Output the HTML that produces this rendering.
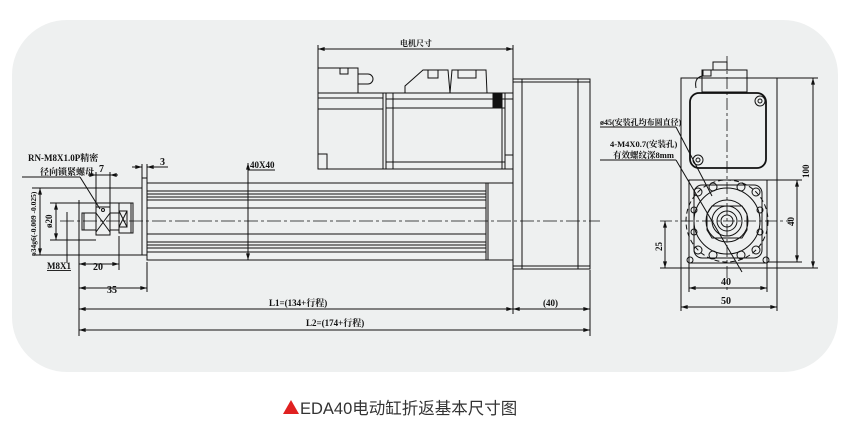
<!DOCTYPE html>
<html><head><meta charset="utf-8"><style>
html,body{margin:0;padding:0;background:#fff;width:850px;height:434px;overflow:hidden}
svg{display:block}
text{font-family:"Liberation Serif","Noto Serif CJK SC",serif;font-weight:bold;fill:#111}
</style></head><body>
<svg width="850" height="434" viewBox="0 0 850 434" xmlns="http://www.w3.org/2000/svg">
<defs>
<marker id="a" viewBox="0 0 10 6" refX="10" refY="3" markerWidth="7" markerHeight="4" orient="auto-start-reverse"><path d="M0,0L10,3L0,6z" fill="#111"/></marker>
</defs>
<rect x="12" y="20" width="826" height="352" rx="55" fill="#eef0f0"/>
<g stroke="#111" stroke-width="1" fill="none">
<line x1="60" y1="221" x2="600" y2="221" stroke-dasharray="14,3,3,3" stroke-width="0.8"/>
<rect x="147" y="183" width="339" height="77"/>
<line x1="147" y1="191" x2="486" y2="191"/><line x1="147" y1="194" x2="486" y2="194"/><line x1="147" y1="197" x2="486" y2="197"/><line x1="147" y1="200" x2="486" y2="200"/><line x1="147" y1="208" x2="486" y2="208"/>
<line x1="147" y1="234" x2="486" y2="234"/><line x1="147" y1="242" x2="486" y2="242"/><line x1="147" y1="245" x2="486" y2="245"/><line x1="147" y1="248" x2="486" y2="248"/><line x1="147" y1="252" x2="486" y2="252"/>
<rect x="486" y="183" width="27" height="77"/><line x1="488" y1="183" x2="488" y2="260"/>
<rect x="142" y="178" width="5" height="77"/>
<rect x="119" y="203" width="14" height="30"/><line x1="131" y1="203" x2="131" y2="233"/>
<path d="M119,211 L127,211 L127,227 L119,227z M119,211 L127,227 M127,211 L119,227"/>
<rect x="110" y="213" width="9" height="17"/>
<rect x="96" y="207" width="14" height="28"/><path d="M96,213 L110,232 M110,213 L96,232"/><circle cx="103" cy="210" r="1.5"/>
<rect x="82" y="213" width="14" height="17"/><line x1="84" y1="213" x2="84" y2="230"/>
<rect x="513" y="79" width="77" height="190"/><rect x="513" y="79" width="9" height="190"/><rect x="578" y="79" width="12" height="190"/>
<line x1="513" y1="82" x2="590" y2="82"/><line x1="513" y1="266" x2="590" y2="266"/>
<rect x="318" y="93" width="195" height="76"/>
<line x1="318" y1="98" x2="383" y2="98"/><line x1="318" y1="109" x2="383" y2="109"/>
<line x1="383" y1="93" x2="383" y2="169"/><line x1="386" y1="93" x2="386" y2="169"/><line x1="393" y1="93" x2="393" y2="169"/>
<line x1="386" y1="99" x2="513" y2="99"/><line x1="386" y1="108" x2="505" y2="108"/><line x1="386" y1="162" x2="505" y2="162"/>
<line x1="502" y1="93" x2="502" y2="169"/><line x1="505" y1="93" x2="505" y2="169"/>
<rect x="493" y="93" width="9" height="15" fill="#111"/>
<rect x="318" y="154" width="9" height="15"/><rect x="505" y="155" width="8" height="14"/>
<rect x="318" y="68" width="40" height="25"/><rect x="340" y="68" width="8" height="6"/><path d="M358,74 h10 a5,5 0 0 1 0,10 h-10"/>
<path d="M405,93 L405,86 L423,70 L448,70 L450,93 M450,93 L452,70 L486,70 L487,93"/><path d="M428,70 v8 h10 v-8 M458,70 v8 h18 v-8"/>
<line x1="79" y1="200" x2="79" y2="336"/>
<line x1="147" y1="262" x2="147" y2="292"/>
<line x1="119" y1="236" x2="119" y2="270"/>
<line x1="79" y1="264" x2="119" y2="264" marker-start="url(#a)" marker-end="url(#a)"/>
<line x1="79" y1="288" x2="147" y2="288" marker-start="url(#a)" marker-end="url(#a)"/>
<line x1="79" y1="309" x2="513" y2="309" marker-start="url(#a)" marker-end="url(#a)"/>
<line x1="513" y1="309" x2="590" y2="309" marker-start="url(#a)" marker-end="url(#a)"/>
<line x1="79" y1="330" x2="590" y2="330" marker-start="url(#a)" marker-end="url(#a)"/>
<line x1="513" y1="262" x2="513" y2="314"/><line x1="590" y1="270" x2="590" y2="336"/>
<line x1="32" y1="188" x2="142" y2="188"/><line x1="32" y1="255" x2="142" y2="255"/>
<line x1="40" y1="188" x2="40" y2="255" marker-start="url(#a)" marker-end="url(#a)"/>
<line x1="50" y1="203" x2="119" y2="203"/><line x1="50" y1="240" x2="96" y2="240"/>
<line x1="56" y1="203" x2="56" y2="240" marker-start="url(#a)" marker-end="url(#a)"/>
<line x1="67" y1="212" x2="67" y2="263"/>
<line x1="96" y1="172" x2="96" y2="207"/><line x1="110" y1="172" x2="110" y2="207"/>
<line x1="88" y1="175" x2="96" y2="175" marker-end="url(#a)"/><line x1="118" y1="175" x2="110" y2="175" marker-end="url(#a)"/><line x1="96" y1="175" x2="110" y2="175"/>
<line x1="142" y1="164" x2="142" y2="178"/><line x1="147" y1="164" x2="147" y2="183"/>
<line x1="132" y1="167" x2="142" y2="167" marker-end="url(#a)"/><line x1="157" y1="167" x2="147" y2="167" marker-end="url(#a)"/><line x1="147" y1="167" x2="168" y2="167"/>
<line x1="22" y1="177" x2="80" y2="177"/><line x1="80" y1="177" x2="100" y2="209"/>
<line x1="248" y1="163" x2="248" y2="260" marker-start="url(#a)" marker-end="url(#a)"/><line x1="248" y1="170" x2="275" y2="170"/>
<line x1="318" y1="49" x2="513" y2="49" marker-start="url(#a)" marker-end="url(#a)"/>
<line x1="318" y1="45" x2="318" y2="68"/><line x1="513" y1="45" x2="513" y2="79"/>
<line x1="727" y1="56" x2="727" y2="290" stroke-dasharray="12,3,3,3" stroke-width="0.8"/>
<line x1="660" y1="221" x2="790" y2="221" stroke-dasharray="12,3,3,3" stroke-width="0.8"/>
<rect x="681" y="78" width="96" height="190"/>
<rect x="690" y="93" width="76" height="75" rx="9" stroke-width="1.8"/>
<rect x="702" y="70" width="45" height="22"/><rect x="713" y="62" width="14" height="8"/><rect x="703" y="70" width="8" height="6"/><path d="M702,76 q-8,2 -6,12"/>
<circle cx="698" cy="160" r="5"/><circle cx="698" cy="160" r="2"/><circle cx="760" cy="101" r="5"/><circle cx="760" cy="101" r="2"/>
<rect x="689" y="180" width="78" height="83"/>
<rect x="694" y="185" width="68" height="73" rx="8"/>
<circle cx="727" cy="221" r="41" stroke-dasharray="5,3"/>
<circle cx="727" cy="221" r="33"/><circle cx="727" cy="221" r="21"/><circle cx="727" cy="221" r="15"/><circle cx="727" cy="221" r="10"/><circle cx="727" cy="221" r="6"/>
<path d="M712,206 h30 l5,8 v16 l-5,8 h-30 l-5,-8 v-16z"/>
<circle cx="698" cy="192" r="4"/><circle cx="756" cy="192" r="4"/><circle cx="698" cy="250" r="4"/><circle cx="756" cy="250" r="4"/>
<circle cx="713" cy="187" r="4"/><circle cx="741" cy="187" r="4"/><circle cx="713" cy="255" r="4"/><circle cx="741" cy="255" r="4"/>
<circle cx="694" cy="210" r="3"/><circle cx="694" cy="232" r="3"/><circle cx="760" cy="210" r="3"/><circle cx="760" cy="232" r="3"/>
<circle cx="690" cy="260" r="3"/><circle cx="766" cy="260" r="3"/>
<line x1="600" y1="127" x2="676" y2="127"/><line x1="676" y1="127" x2="712" y2="196"/>
<line x1="600" y1="160" x2="676" y2="160"/><line x1="676" y1="160" x2="742" y2="272"/>
<line x1="777" y1="78" x2="818" y2="78"/><line x1="777" y1="268" x2="818" y2="268"/>
<line x1="813" y1="78" x2="813" y2="268" marker-start="url(#a)" marker-end="url(#a)"/>
<line x1="767" y1="180" x2="802" y2="180"/><line x1="767" y1="262" x2="802" y2="262"/>
<line x1="797" y1="180" x2="797" y2="262" marker-start="url(#a)" marker-end="url(#a)"/>
<line x1="660" y1="268" x2="681" y2="268"/>
<line x1="665" y1="221" x2="665" y2="268" marker-start="url(#a)" marker-end="url(#a)"/>
<line x1="689" y1="263" x2="689" y2="292"/><line x1="767" y1="263" x2="767" y2="292"/>
<line x1="681" y1="268" x2="681" y2="311"/><line x1="777" y1="268" x2="777" y2="311"/>
<line x1="689" y1="288" x2="767" y2="288" marker-start="url(#a)" marker-end="url(#a)"/>
<line x1="681" y1="307" x2="777" y2="307" marker-start="url(#a)" marker-end="url(#a)"/>
</g>
<g font-size="9">
<text x="28" y="161">RN-M8X1.0P精密</text>
<text x="40" y="175">径向锁紧螺母</text>
<text x="99" y="172" font-size="10">7</text>
<text x="160" y="165" font-size="10">3</text>
<text x="250" y="168">40X40</text>
<text x="47" y="269" text-decoration="underline">M8X1</text>
<text x="93" y="270" font-size="10">20</text>
<text x="107" y="293" font-size="10">35</text>
<text x="269" y="306">L1=(134+行程)</text>
<text x="306" y="326">L2=(174+行程)</text>
<text x="543" y="306">(40)</text>
<text x="400" y="46" font-size="8">电机尺寸</text>
<text x="36" y="256" font-size="7.5" transform="rotate(-90 36 256)">ø34g6(-0.009 -0.025)</text>
<text x="52" y="228" font-size="9" transform="rotate(-90 52 228)">ø20</text>
<text x="600" y="125" font-size="8">ø45(安装孔均布圆直径)</text>
<text x="610" y="147" font-size="8.5">4-M4X0.7(安装孔)</text>
<text x="613" y="158" font-size="8.5">有效螺纹深8mm</text>
<text x="809" y="178" font-size="9" transform="rotate(-90 809 178)">100</text>
<text x="794" y="226" font-size="9" transform="rotate(-90 794 226)">40</text>
<text x="662" y="251" font-size="9" transform="rotate(-90 662 251)">25</text>
<text x="721" y="285" font-size="10">40</text>
<text x="721" y="304" font-size="10">50</text>
</g>
<path d="M283,414 L291,400 L299,414z" fill="#e02020"/>
<text x="300" y="414" font-size="16.5" style="font-family:'Liberation Sans','Noto Sans CJK SC',sans-serif;font-weight:normal;fill:#333">EDA40电动缸折返基本尺寸图</text>
</svg>
</body></html>
